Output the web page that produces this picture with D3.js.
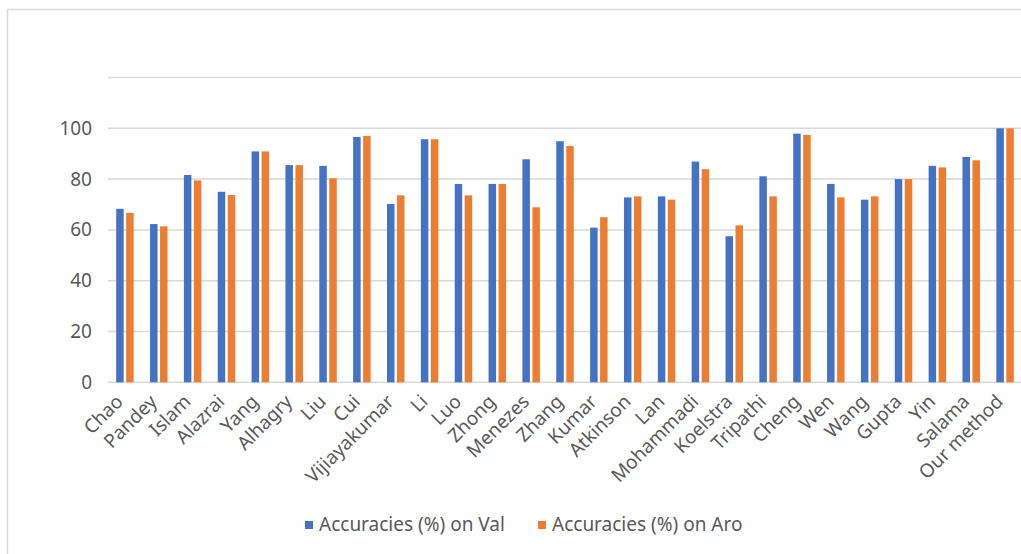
<!DOCTYPE html>
<html>
<head>
<meta charset="utf-8">
<script src="https://cdn.jsdelivr.net/npm/d3@7"></script>
<style>
  body { margin: 0; background: #fff; }
  svg text { font-family: "Noto Sans", "Open Sans", sans-serif; fill: #595959; }
</style>
</head>
<body>
<div id="chart"></div>
<script>
// categories and the two series
const methods = ["Chao", "Pandey", "Islam", "Alazrai", "Yang", "Alhagry", "Liu", "Cui",
  "Vijiayakumar", "Li", "Luo", "Zhong", "Menezes", "Zhang", "Kumar", "Atkinson", "Lan",
  "Mohammadi", "Koelstra", "Tripathi", "Cheng", "Wen", "Wang", "Gupta", "Yin", "Salama",
  "Our method"];
const valAcc = [68.3, 62.3, 81.6, 75.0, 90.9, 85.5, 85.2, 96.6, 70.2, 95.7, 78.1, 78.1,
  87.8, 94.9, 60.9, 72.8, 73.2, 86.9, 57.5, 81.1, 97.9, 78.1, 71.9, 80.0, 85.2, 88.7, 100];
const aroAcc = [66.7, 61.4, 79.5, 73.7, 90.9, 85.5, 80.3, 97.0, 73.6, 95.7, 73.6, 78.1,
  68.9, 93.0, 65.0, 73.2, 71.9, 83.9, 61.8, 73.2, 97.4, 72.8, 73.2, 80.0, 84.6, 87.4, 100];
const seriesNames = ["Accuracies (%) on Val", "Accuracies (%) on Aro"];
const colors = ["#4472C4", "#ED7D31"];
const yTicks = [0, 20, 40, 60, 80, 100];

const W = 1021, H = 554;
const plotLeft = 108, plotRight = 1022, plotTop = 77.5, plotBottom = 382.3;

const svg = d3.select('#chart').append('svg')
  .attr('width', W).attr('height', H);

// outer chart border (only top and left are visible in the crop)
svg.append('rect')
  .attr('x', 7.5).attr('y', 9.5)
  .attr('width', 1040).attr('height', 600)
  .attr('fill', 'none').attr('stroke', '#D9D9D9').attr('stroke-width', 1.5);

const x0 = d3.scaleBand().domain(methods).range([plotLeft, plotRight])
  .paddingInner(0.41).paddingOuter(0.205);
const x1 = d3.scaleBand().domain([0, 1]).range([0, x0.bandwidth()])
  .paddingInner(0.25).paddingOuter(0.125);
const y = d3.scaleLinear().domain([0, 120]).range([plotBottom, plotTop]);

// gridlines
svg.append('g')
  .selectAll('line')
  .data(d3.range(0, 121, 20))
  .enter().append('line')
  .attr('x1', plotLeft).attr('x2', plotRight)
  .attr('y1', d => y(d)).attr('y2', d => y(d))
  .attr('stroke', '#D9D9D9').attr('stroke-width', 1.5);

// y axis labels
const yAxis = d3.axisLeft(y).tickValues(yTicks).tickSize(0).tickPadding(16);
const gy = svg.append('g').attr('transform', `translate(${plotLeft},0)`).call(yAxis);
gy.select('.domain').remove();
gy.selectAll('text').style('font-size', '19px').attr('fill', '#595959');

// bars
const groups = svg.append('g').selectAll('g')
  .data(methods)
  .enter().append('g')
  .attr('transform', d => `translate(${x0(d)},0)`);

groups.selectAll('rect')
  .data((d, i) => [valAcc[i], aroAcc[i]])
  .enter().append('rect')
  .attr('x', (d, j) => x1(j))
  .attr('y', d => y(d))
  .attr('width', x1.bandwidth())
  .attr('height', d => y(0) - y(d))
  .attr('fill', (d, j) => colors[j]);

// x axis labels
const xAxis = d3.axisBottom(x0).tickSize(0).tickPadding(8);
const gx = svg.append('g').attr('transform', `translate(0,${plotBottom})`).call(xAxis);
gx.select('.domain').remove();
gx.selectAll('text')
  .style('font-size', '19px')
  .attr('fill', '#595959')
  .style('text-anchor', 'end')
  .attr('dx', '-15px')
  .attr('dy', '6px')
  .attr('transform', 'rotate(-45)');

// legend
const legend = svg.append('g');
const legendX = [305, 538];
seriesNames.forEach((name, i) => {
  legend.append('rect')
    .attr('x', legendX[i]).attr('y', 521)
    .attr('width', 8).attr('height', 8)
    .attr('fill', colors[i]);
  legend.append('text')
    .attr('x', legendX[i] + 14).attr('y', 531)
    .style('font-size', '19px')
    .text(name);
});
</script>
</body>
</html>
